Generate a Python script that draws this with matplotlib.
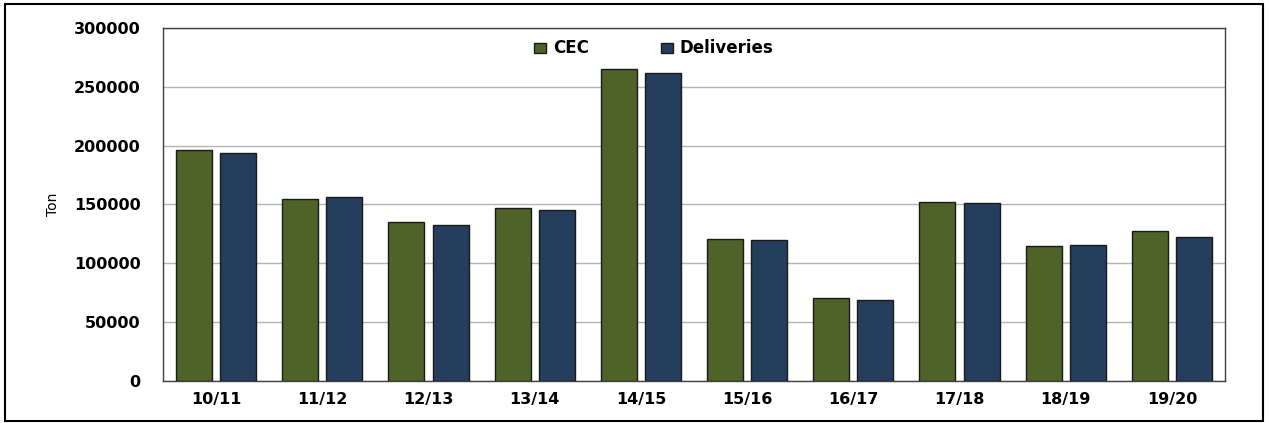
import numpy as np
from matplotlib import pyplot as plt
from matplotlib.patches import Rectangle

# data
seasons = ['10/11', '11/12', '12/13', '13/14', '14/15',
           '15/16', '16/17', '17/18', '18/19', '19/20']
cec = [196300, 154800, 135100, 146900, 265000,
       120700, 70500, 152300, 114800, 127300]
deliveries = [194000, 156500, 132900, 145400, 261500,
              120200, 68750, 151100, 115600, 122700]
y_ticks = [0, 50000, 100000, 150000, 200000, 250000, 300000]

green = '#4f6228'
navy = '#253e5e'

plt.rcParams['font.family'] = ['DejaVu Sans']

fig = plt.figure(figsize=(12.69, 4.23), dpi=100)
ax = fig.add_axes([163 / 1269, 1 - 381 / 423, (1225 - 163) / 1269, (381 - 28) / 423])

x = np.arange(len(seasons))
width = 0.34
ax.bar(x - 0.208, cec, width, color=green, edgecolor='#1a1a1a', linewidth=1, label='CEC', zorder=3)
ax.bar(x + 0.208, deliveries, width, color=navy, edgecolor='#1a1a1a', linewidth=1, label='Deliveries', zorder=3)

ax.set_xlim(-0.5, len(seasons) - 0.5)
ax.set_ylim(0, 300000)
ax.set_yticks(y_ticks)
ax.set_yticklabels([str(v) for v in y_ticks], fontsize=11.5, fontweight='bold')
ax.set_xticks(x)
ax.set_xticklabels(seasons, fontsize=11.5, fontweight='bold')
ax.tick_params(axis='both', length=0)
ax.tick_params(axis='y', pad=16)
ax.tick_params(axis='x', pad=8)
ax.grid(axis='y', color='#b4b4b4', linewidth=1, zorder=0)
for sp in ax.spines.values():
    sp.set_color('#404040')
    sp.set_linewidth(1)

ax.set_ylabel('Ton', fontsize=10, family=['Liberation Sans Narrow', 'DejaVu Sans'], labelpad=10)

leg = ax.legend(loc='upper center', bbox_to_anchor=(0.462, 1.01), ncol=2, frameon=False,
                prop={'weight': 'bold', 'size': 12}, handlelength=0.75, handleheight=0.55,
                handletextpad=0.4, columnspacing=4.3)

# outer frame round the whole chart
fig.patches.append(Rectangle((5 / 1269, 2 / 423), 1258 / 1269, 417 / 423, transform=fig.transFigure,
                             fill=False, edgecolor='black', linewidth=1.5))

plt.savefig('out.png', dpi=100)
plt.close()
